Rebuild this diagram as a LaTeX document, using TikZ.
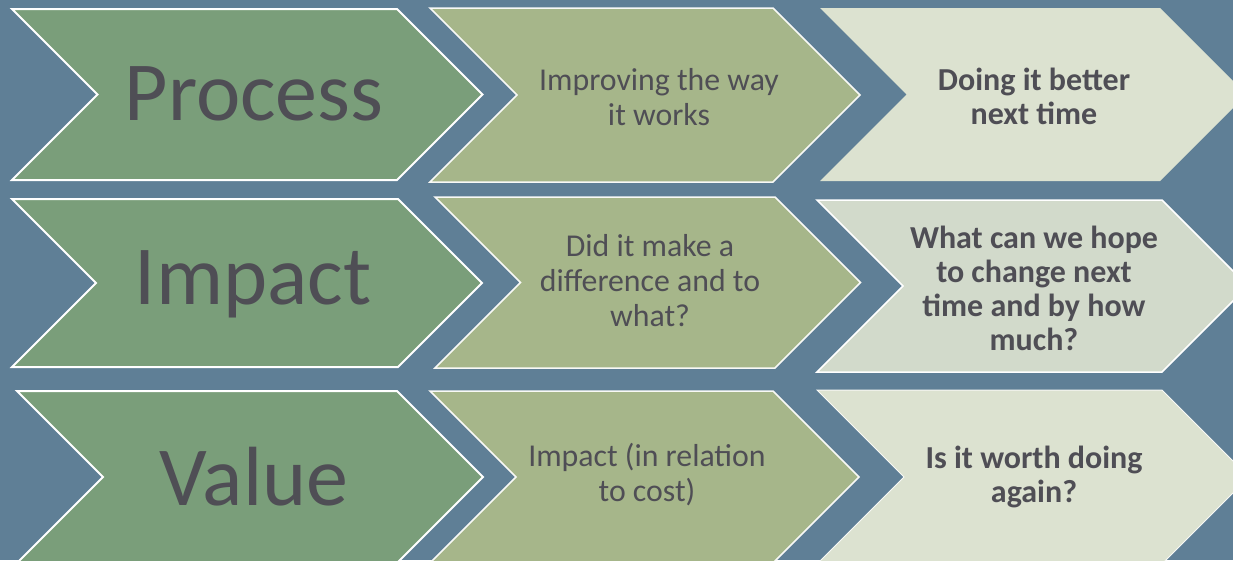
\documentclass[tikz,border=0pt]{standalone}
\usepackage{fontspec}
\setmainfont{Carlito}
\definecolor{bgblue}{HTML}{5F7F96}
\definecolor{cgreen}{HTML}{7A9E7A}
\definecolor{colive}{HTML}{A6B68A}
\definecolor{clight}{HTML}{DCE2D0}
\definecolor{clight2}{HTML}{D2DACB}
\definecolor{txt}{HTML}{4F4E55}
\newcommand{\mychev}[5]{%
  \pgfmathsetmacro{\chx}{#2}\pgfmathsetmacro{\chy}{#3}%
  \pgfmathsetmacro{\chr}{#4}\pgfmathsetmacro{\chh}{#5}%
  \pgfmathsetmacro{\chhalf}{#5/2}%
  \path[#1] (\chx,\chy) -- (\chr,\chy) -- (\chr+\chhalf,\chy+\chhalf) -- (\chr,\chy+\chh)
    -- (\chx,\chy+\chh) -- (\chx+\chhalf,\chy+\chhalf) -- cycle;}
\begin{document}
\begin{tikzpicture}[x=1pt,y=-1pt,
  bigtext/.style={text=txt,font=\fontsize{84}{92}\selectfont,align=center},
  midtext/.style={text=txt,font=\fontsize{31.8}{35}\selectfont,align=center},
  boldtext/.style={text=txt,font=\fontsize{32}{34}\selectfont\bfseries,align=center},
  greenchev/.style={fill=cgreen,draw=white,line width=2pt,line join=miter},
  olivechev/.style={fill=colive,draw=white!92!colive,line width=1.5pt,line join=miter},
  lightchev/.style={fill=clight},
  lightchevb/.style={fill=clight2,draw=white,line width=1.5pt,line join=miter},
  lightchevc/.style={fill=clight,draw=white!80!clight,line width=1pt,line join=miter}]
\useasboundingbox (0,0) rectangle (1233,560);
\begin{scope}
\clip (0,0) rectangle (1233,560);
\fill[bgblue] (0,0) rectangle (1233,560);
% row 1
\mychev{greenchev}{12}{9}{397}{171}
\mychev{olivechev}{430}{8}{773}{174}
\mychev{lightchev}{820}{8}{1160}{173}
% row 2
\mychev{greenchev}{12}{199}{398}{168}
\mychev{olivechev}{435}{197}{775}{171}
\mychev{lightchevb}{817}{200}{1162}{172}
% row 3
\mychev{greenchev}{17}{391}{397}{172}
\mychev{olivechev}{430}{391}{773}{172}
\mychev{lightchevc}{817}{390}{1162}{174}
\end{scope}
\node[bigtext] (p1) at (254,94) {Process};
\node[midtext] (p2) at (659,97) {Improving the way\\it works};
\node[boldtext] (p3) at (1034,96) {Doing it better\\next time};
\node[bigtext] (i1) at (253,284) {Impact};
\node[midtext] (i2) at (650,281) {Did it make a\\difference and to\\what?};
\node[boldtext] (i3) at (1034,288) {What can we hope\\to change next\\time and by how\\much?};
\node[bigtext] (v1) at (254,477) {Value};
\node[midtext] (v2) at (647,475) {Impact (in relation\\to cost)};
\node[boldtext] (v3) at (1034,477) {Is it worth doing\\again?};
\end{tikzpicture}
\end{document}
